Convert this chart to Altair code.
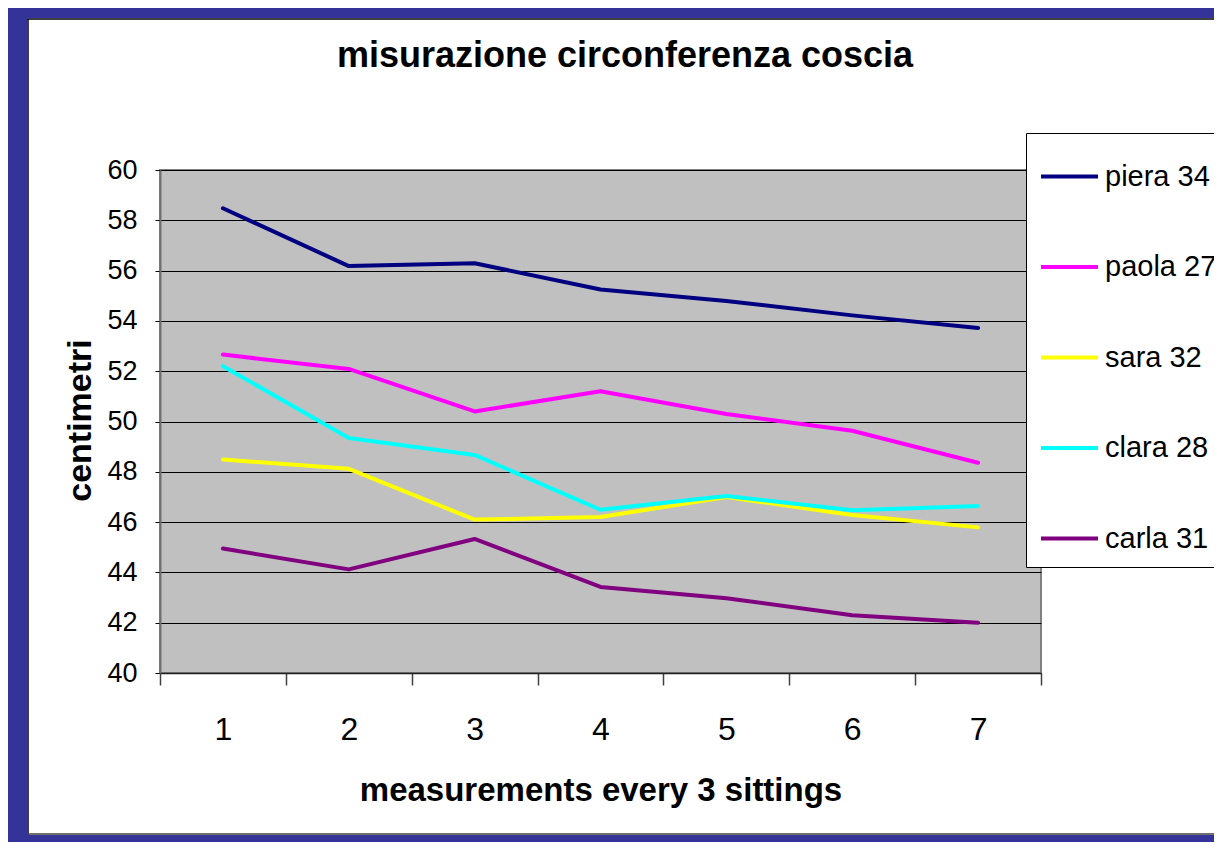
import altair as alt
import pandas as pd

# ---- data ----
sittings = [1, 2, 3, 4, 5, 6, 7]
names = ["piera 34", "paola 27", "sara 32", "clara 28", "carla 31"]
piera = [58.48, 56.18, 56.29, 55.25, 54.79, 54.22, 53.72]
paola = [52.66, 52.09, 50.40, 51.20, 50.30, 49.63, 48.36]
sara = [48.49, 48.12, 46.10, 46.20, 47.00, 46.28, 45.79]
clara = [52.20, 49.34, 48.67, 46.49, 47.04, 46.47, 46.64]
carla = [44.95, 44.12, 45.33, 43.42, 42.97, 42.30, 42.00]
colors = ["#000080", "#FF00FF", "#FFFF00", "#00FFFF", "#800080"]
y_ticks = list(range(40, 62, 2))
chart_title = "misurazione circonferenza coscia"

series = [piera, paola, sara, clara, carla]
rows = []
for n, vals in zip(names, series):
    for s, v in zip(sittings, vals):
        rows.append({"sitting": s, "cm": v, "name": n})
df = pd.DataFrame(rows)

FONT = "Liberation Sans"
W, H = 881, 503
PAD_L, PAD_T, PAD_R, PAD_B = 152, 162, 173, 169
FRAME = "#333399"

lines = alt.Chart(df).mark_line(strokeWidth=4, strokeCap="round", strokeJoin="round").encode(
    x=alt.X(
        "sitting:O",
        bandPosition=0.5,
        scale=alt.Scale(type="band", paddingInner=0, paddingOuter=0),
        axis=alt.Axis(
            title="measurements every 3 sittings",
            titleFont=FONT, titleFontSize=33, titleFontWeight="bold", titleColor="black",
            titleY=127, titleBaseline="alphabetic",
            labelFont=FONT, labelFontSize=32, labelColor="black", labelAngle=0,
            labelBaseline="alphabetic", labelPadding=54,
            tickBand="extent", tickSize=12, tickColor="#404040", tickWidth=1.5,
            domainColor="#202020", domainWidth=1.5, grid=False,
        ),
    ),
    y=alt.Y(
        "cm:Q",
        scale=alt.Scale(domain=[40, 60], nice=False, zero=False),
        axis=alt.Axis(
            values=y_ticks,
            title="centimetri",
            titleFont=FONT, titleFontSize=34, titleFontWeight="bold", titleColor="black",
            titleAngle=270, titleX=-70, titleY=250, titleAlign="center", titleBaseline="alphabetic",
            labelFont=FONT, labelFontSize=27, labelColor="black", labelPadding=18,
            tickSize=5, tickColor="black", tickWidth=1,
            domainColor="#707070", domainWidth=2,
            grid=True, gridColor="black", gridWidth=1, gridOpacity=1,
        ),
    ),
    color=alt.Color(
        "name:N",
        sort=names,
        scale=alt.Scale(domain=names, range=colors),
        legend=alt.Legend(
            title=None, orient="none", legendX=866, legendY=-37,
            symbolType="stroke", symbolSize=3249, symbolStrokeWidth=4,
            labelFont=FONT, labelFontSize=29, labelColor="black", labelOffset=5,
            rowPadding=44.5, padding=13, fillColor="white", strokeColor="black",
        ),
    ),
    order=alt.Order("sitting:O"),
)

one = pd.DataFrame({"k": [0]})
left_band = alt.Chart(one).mark_rect(color=FRAME).encode(
    x=alt.value(-PAD_L), x2=alt.value(-133), y=alt.value(-PAD_T), y2=alt.value(H + PAD_B)
)
top_band = alt.Chart(one).mark_rect(color=FRAME).encode(
    x=alt.value(-PAD_L), x2=alt.value(W + PAD_R), y=alt.value(-PAD_T), y2=alt.value(-152)
)
bottom_band = alt.Chart(one).mark_rect(color=FRAME).encode(
    x=alt.value(-PAD_L), x2=alt.value(W + PAD_R), y=alt.value(665), y2=alt.value(H + PAD_B)
)
edge_top = alt.Chart(one).mark_rule(color="black", strokeWidth=1.5).encode(
    x=alt.value(-133), x2=alt.value(W + PAD_R), y=alt.value(-151)
)
edge_left = alt.Chart(one).mark_rule(color="black", strokeWidth=1.5).encode(
    x=alt.value(-132), y=alt.value(-151), y2=alt.value(665)
)
edge_bottom = alt.Chart(one).mark_rule(color="#404040", strokeWidth=1.5).encode(
    x=alt.value(-133), x2=alt.value(W + PAD_R), y=alt.value(664)
)
title_text = alt.Chart(one).mark_text(
    font=FONT, fontSize=36, fontWeight="bold", color="black",
    align="center", baseline="alphabetic",
).encode(x=alt.value(465), y=alt.value(-103), text=alt.value(chart_title))

chart = alt.layer(
    left_band, top_band, bottom_band, edge_top, edge_left, edge_bottom, title_text, lines
).properties(
    width=W,
    height=H,
    autosize=alt.AutoSizeParams(type="none"),
    padding={"left": PAD_L, "top": PAD_T, "right": PAD_R, "bottom": PAD_B},
).configure(
    background="white",
).configure_view(
    fill="#C0C0C0", stroke="#808080", strokeWidth=2,
)

chart.save("out.html", embed_options={"renderer": "svg", "actions": False})
